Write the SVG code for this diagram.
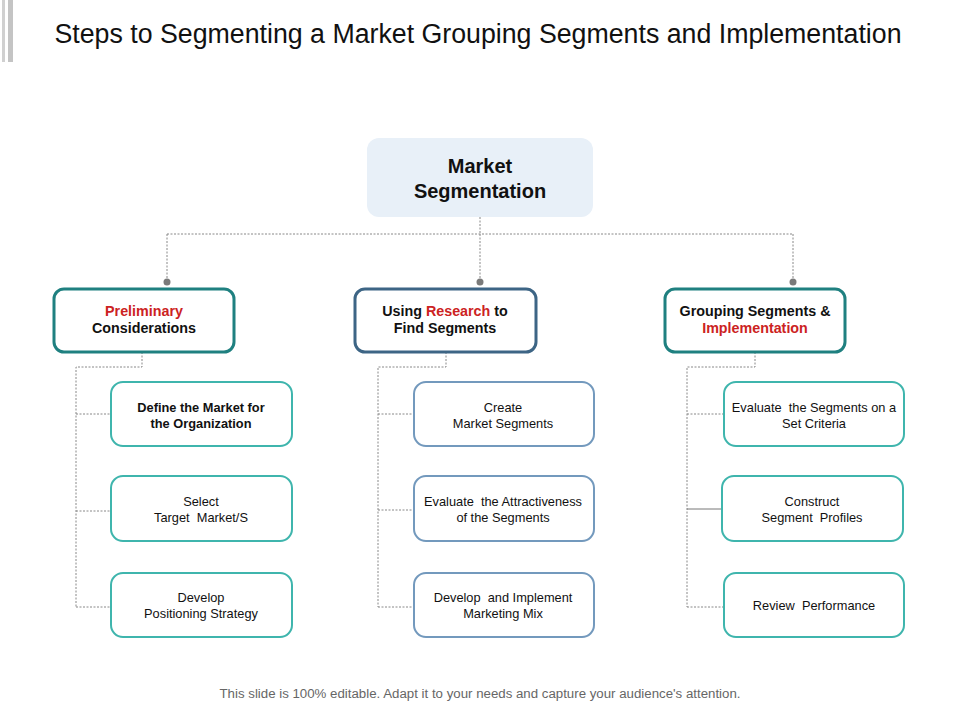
<svg xmlns="http://www.w3.org/2000/svg" width="960" height="720" viewBox="0 0 960 720">
<defs>
<style>
.t{font-family:"Liberation Sans",Arial,sans-serif;text-anchor:middle;fill:#111}
.b{font-weight:bold}
.red{fill:#cc2222}
.l2t{stroke:#1f8080;stroke-width:3;fill:#fff}
.l2b{stroke:#3d6585;stroke-width:3;fill:#fff}
.l3t{stroke:#3fb5ad;stroke-width:2;fill:#fff}
.l3b{stroke:#7399bd;stroke-width:2;fill:#fff}
.dash{stroke:#888;stroke-width:1;fill:none;stroke-dasharray:2 1.5}
.solid{stroke:#777;stroke-width:1;fill:none}
.s12{font-size:12.8px}
.s13{font-size:14.3px}
</style>
</defs>
<rect width="960" height="720" fill="#fff"/>
<rect x="2" y="0" width="3" height="62" fill="#d0d0d0"/>
<rect x="8" y="0" width="5" height="62" fill="#c4c4c4"/>
<text class="t" x="478" y="43" font-size="27" textLength="847" lengthAdjust="spacingAndGlyphs">Steps to Segmenting a Market Grouping Segments and Implementation</text>

<g id="connectors">
<path class="dash" d="M480 217 V234 M167 234 H793 M167 234 V282 M480 234 V282 M793 234 V282"/>
<circle cx="167" cy="282" r="3.5" fill="#7a7a7a"/>
<circle cx="480" cy="282" r="3.5" fill="#7a7a7a"/>
<circle cx="793" cy="282" r="3.5" fill="#7a7a7a"/>
<path class="dash" d="M142 352 V367 H76 V607 M76 414 H110 M76 511 H110 M76 607 H110"/>
<path class="dash" d="M446 352 V367 H378 V607 M378 414 H413 M378 510 H413 M378 607 H413"/>
<path class="dash" d="M755 352 V367 H687 V607 M687 414 H723 M687 607 H723"/>
<path class="solid" d="M687 509 H722"/>
</g>

<g id="root">
<rect x="367" y="138" width="226" height="79" rx="12" fill="#e8f0f8"/>
<text class="t b" x="480" y="173" font-size="20">Market</text>
<text class="t b" x="480" y="198" font-size="20">Segmentation</text>
</g>

<g id="prelim">
<rect class="l2t" x="54" y="289" width="180" height="63" rx="10"/>
<text class="t b s13" x="144" y="316"><tspan class="red">Preliminary</tspan></text>
<text class="t b s13" x="144" y="333">Considerations</text>
</g>
<g id="research">
<rect class="l2b" x="355" y="289" width="181" height="63" rx="10"/>
<text class="t b s13" x="445" y="316">Using <tspan class="red">Research</tspan> to</text>
<text class="t b s13" x="445" y="333">Find Segments</text>
</g>
<g id="grouping">
<rect class="l2t" x="665" y="289" width="180" height="63" rx="10"/>
<text class="t b s13" x="755" y="316">Grouping Segments &amp;</text>
<text class="t b s13" x="755" y="333"><tspan class="red">Implementation</tspan></text>
</g>

<g id="define">
<rect class="l3t" x="111" y="382" width="181" height="64" rx="12"/>
<text class="t b s12" x="201" y="412">Define the Market for</text>
<text class="t b s12" x="201" y="428">the Organization</text>
</g>
<g id="select">
<rect class="l3t" x="111" y="476" width="181" height="65" rx="12"/>
<text class="t s12" x="201" y="506">Select</text>
<text class="t s12" x="201" y="522" xml:space="preserve">Target  Market/S</text>
</g>
<g id="position">
<rect class="l3t" x="111" y="573" width="181" height="64" rx="12"/>
<text class="t s12" x="201" y="602">Develop</text>
<text class="t s12" x="201" y="618">Positioning Strategy</text>
</g>

<g id="create">
<rect class="l3b" x="414" y="382" width="180" height="64" rx="12"/>
<text class="t s12" x="503" y="412">Create</text>
<text class="t s12" x="503" y="428">Market Segments</text>
</g>
<g id="attract">
<rect class="l3b" x="414" y="476" width="180" height="65" rx="12"/>
<text class="t s12" x="503" y="506" xml:space="preserve">Evaluate  the Attractiveness</text>
<text class="t s12" x="503" y="522">of the Segments</text>
</g>
<g id="mix">
<rect class="l3b" x="414" y="573" width="180" height="64" rx="12"/>
<text class="t s12" x="503" y="602" xml:space="preserve">Develop  and Implement</text>
<text class="t s12" x="503" y="618">Marketing Mix</text>
</g>

<g id="criteria">
<rect class="l3t" x="724" y="382" width="180" height="64" rx="12"/>
<text class="t s12" x="814" y="412" xml:space="preserve">Evaluate  the Segments on a</text>
<text class="t s12" x="814" y="428">Set Criteria</text>
</g>
<g id="profiles">
<rect class="l3t" x="722" y="476" width="181" height="65" rx="12"/>
<text class="t s12" x="812" y="506">Construct</text>
<text class="t s12" x="812" y="522" xml:space="preserve">Segment  Profiles</text>
</g>
<g id="review">
<rect class="l3t" x="724" y="573" width="180" height="64" rx="12"/>
<text class="t s12" x="814" y="610" xml:space="preserve">Review  Performance</text>
</g>

<text class="t" x="480" y="698" font-size="12" style="fill:#666" textLength="521" lengthAdjust="spacingAndGlyphs">This slide is 100% editable. Adapt it to your needs and capture your audience's attention.</text>
</svg>
